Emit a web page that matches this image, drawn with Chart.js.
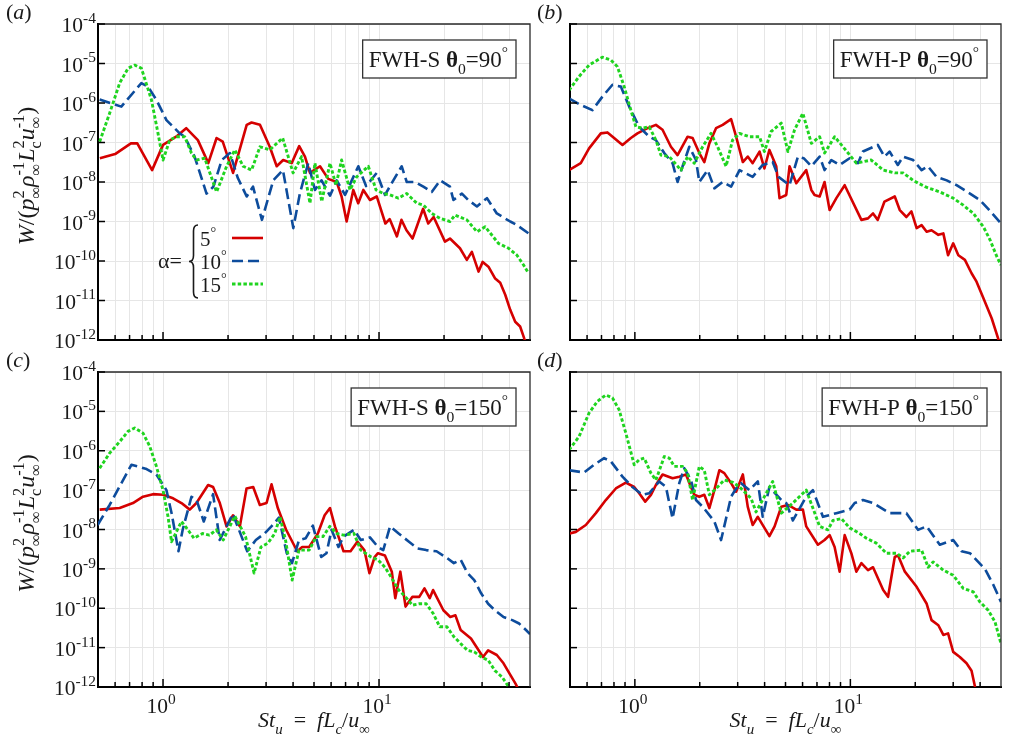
<!DOCTYPE html>
<html>
<head>
<meta charset="utf-8">
<script src="https://cdn.jsdelivr.net/npm/chart.js@4.4.1/dist/chart.umd.min.js"></script>
<style>
  html, body { margin: 0; padding: 0; background: #fff; }
  #page { position: relative; width: 1009px; height: 741px; overflow: hidden; }
  .panel { position: absolute; }
</style>
</head>
<body>
<div id="page">
  <div class="panel" style="left:0;top:0;width:545px;height:352px"><canvas id="pa"></canvas></div>
  <div class="panel" style="left:530px;top:0;width:479px;height:352px"><canvas id="pb"></canvas></div>
  <div class="panel" style="left:0;top:345px;width:545px;height:396px"><canvas id="pc"></canvas></div>
  <div class="panel" style="left:530px;top:345px;width:479px;height:396px"><canvas id="pd"></canvas></div>
</div>
<script>
// ---- tick values ----
const xTicks = [0.6, 0.7, 0.8, 0.9, 1, 2, 3, 4, 5, 6, 7, 8, 9, 10, 20, 30, 40];
const xMajor = [1, 10];
const yTicks = [1e-12, 1e-11, 1e-10, 1e-9, 1e-8, 1e-7, 1e-6, 1e-5, 1e-4];
const alphaLabels = ['5', '10', '15'];

// ---- (a) FWH-S, theta0 = 90 ----
const aRedSt = [0.51,0.60,0.71,0.76,0.89,1.0,1.15,1.28,1.45,1.62,1.77,1.89,2.11,2.44,2.57,2.81,3.12,3.36,3.60,3.94,4.27,4.54,4.79,5.33,5.82,6.37,6.71,7.08,7.60,8.01,8.46,9.08,9.76,10.7,11.2,12.1,12.7,13.4,14.3,16.0,16.9,17.9,20.2,21.3,23.7,25.5,26.9,28.9,30.2,32.1,34.5,36.4,38.4,40.5,42.7,45.0,47.0,49.0];
const aRedW = [4.0e-8,5.1e-8,9.5e-8,9.5e-8,2.0e-8,8.7e-8,1.4e-7,2.3e-7,1.15e-7,3.0e-8,1.3e-7,1.05e-7,1.7e-8,2.8e-7,3.2e-7,2.8e-7,7.8e-8,2.5e-8,3.6e-8,3.0e-8,8.1e-8,4.4e-8,1.7e-8,2.5e-8,1.2e-8,1.0e-8,4.3e-9,1.0e-9,6.3e-9,2.9e-9,6.3e-9,3.5e-9,4.3e-9,8.9e-10,1.15e-9,4.2e-10,1.1e-9,6.0e-10,3.7e-10,2.1e-9,8.9e-10,1.3e-9,3.1e-10,3.7e-10,2.1e-10,1.07e-10,1.7e-10,5.4e-11,9.5e-11,7.2e-11,3.6e-11,2.8e-11,1.4e-11,5.8e-12,2.9e-12,2.2e-12,1.1e-12,6e-13];
const aBlueSt = [0.509,0.641,0.794,0.852,0.932,1.037,1.195,1.26,1.40,1.59,1.71,1.87,2.04,2.22,2.44,2.61,2.87,3.24,3.59,4.01,4.30,4.70,5.05,5.42,5.93,6.37,6.96,8.02,8.71,9.76,10.66,11.65,12.74,13.44,14.69,16.04,17.54,19.18,21.3,22.1,24.2,25.9,28.4,31.6,35.1,40.5,43.5,49.2];
const aBlueW = [1.23e-6,8.1e-7,3.2e-6,2.6e-6,1.2e-6,3.7e-7,1.7e-7,1.4e-7,4.4e-8,5.1e-9,7.6e-9,3.6e-8,5.4e-8,1.26e-8,4.3e-9,7.6e-9,1.1e-9,1.1e-8,2.0e-8,6.8e-10,5.1e-9,3.0e-8,6.3e-9,1.1e-8,4.5e-9,1.1e-8,4.7e-9,2.5e-8,7.9e-9,1.7e-8,4.7e-9,1.1e-8,2.5e-8,1.0e-8,1.0e-8,7.6e-9,5.6e-9,1.1e-8,7.6e-9,3.5e-9,5.1e-9,3.5e-9,2.4e-9,3.9e-9,1.6e-9,1.0e-9,8.1e-10,5.0e-10];
const aGreenSt = [0.509,0.566,0.63,0.689,0.74,0.794,0.884,0.948,1.0,1.074,1.153,1.26,1.354,1.43,1.56,1.77,1.97,2.15,2.35,2.57,2.81,3.12,3.58,4.0,4.38,4.79,5.05,5.43,5.93,6.32,6.71,7.34,7.88,8.92,9.69,10.47,11.24,12.29,13.44,14.96,16.04,17.54,19.18,21.3,22.5,25.5,28.4,31.0,35.7,39.8,43.5,46.7,49.2];
const aGreenW = [1.05e-7,5.5e-7,3.2e-6,7.6e-6,9.1e-6,7.6e-6,1.2e-6,1.7e-7,3.6e-8,1.15e-7,1.4e-7,1.4e-7,5.4e-8,3.6e-8,4.0e-8,5.6e-9,2.5e-8,6.5e-8,2.5e-8,2.0e-8,7.8e-8,6.5e-8,1.3e-7,1.7e-8,4.4e-8,2.9e-9,3.0e-8,3.2e-9,3.0e-8,8.3e-9,3.6e-8,6.3e-9,1.35e-8,2.5e-8,6.3e-9,5.1e-9,4.7e-9,3.9e-9,5.1e-9,2.9e-9,2.6e-9,1.6e-9,1.2e-9,1.0e-9,1.45e-9,1.1e-9,5.5e-10,7.4e-10,2.8e-10,2.1e-10,1.4e-10,7.9e-11,4.9e-11];

// ---- (b) FWH-P, theta0 = 90 ----
const bRedSt = [0.495,0.561,0.613,0.695,0.746,0.801,0.876,0.958,1.028,1.144,1.252,1.344,1.47,1.578,1.757,1.853,1.991,2.10,2.216,2.38,2.556,2.796,2.95,3.17,3.34,3.52,3.79,3.99,4.21,4.53,4.69,5.04,5.22,5.61,6.24,6.59,6.82,7.20,7.59,8.01,8.61,9.41,11.25,12.07,12.74,13.4,14.4,16.07,16.95,18.2,19.2,20.3,21.4,22.6,23.8,25.6,27.0,28.4,30.0,31.7,34.0,36.5,38.5,41.4,45.3,48.6,50];
const bRedW = [2.0e-8,3.0e-8,7.1e-8,1.7e-7,1.8e-7,1.3e-7,8.7e-8,1.3e-7,1.7e-7,2.3e-7,2.8e-7,2.1e-7,7.8e-8,4.8e-8,1.4e-7,1.3e-7,5.4e-8,3.2e-8,9.5e-8,2.3e-7,2.8e-7,3.9e-7,1.4e-7,3.2e-8,4.4e-8,3.0e-8,5.9e-8,2.2e-8,6.5e-8,2.5e-8,3.9e-9,4.7e-9,2.5e-8,9.3e-9,2.0e-8,6.3e-9,4.7e-9,4.3e-9,1.0e-8,1.95e-9,3.9e-9,8.3e-9,1.1e-9,1.2e-9,1.6e-9,1.1e-9,3.2e-9,4.3e-9,1.95e-9,1.3e-9,1.8e-9,6.8e-10,8.1e-10,5.5e-10,6.0e-10,4.6e-10,5.0e-10,1.4e-10,2.8e-10,1.4e-10,1.07e-10,4.9e-11,3.0e-11,1.15e-11,3.5e-12,1.05e-12,8e-13];
const bBlueSt = [0.495,0.561,0.635,0.707,0.787,0.861,0.941,1.047,1.166,1.252,1.369,1.496,1.578,1.665,1.789,1.921,1.991,2.177,2.338,2.556,2.796,3.06,3.52,3.92,4.36,4.64,5.22,5.71,6.07,6.59,7.20,7.59,8.16,8.92,9.92,10.85,11.44,13.4,14.4,15.2,16.6,17.57,19.55,21.4,22.9,25.1,28.0,31.1,35.9,39.9,43.6,50];
const bBlueW = [1.3e-6,8.9e-7,6.6e-7,1.45e-6,2.9e-6,2.6e-6,8.1e-7,2.5e-7,1.4e-7,1.15e-7,5.4e-8,3.0e-8,1.0e-8,2.5e-8,7.8e-8,3.6e-8,1.0e-8,2.0e-8,6.9e-9,1.0e-8,7.6e-9,2.0e-8,1.35e-8,2.7e-8,3.2e-8,1.35e-8,8.3e-9,4.4e-8,4.0e-8,2.5e-8,4.4e-8,2.0e-8,3.6e-8,2.7e-8,4.0e-8,3.0e-8,5.9e-8,8.7e-8,4.4e-8,5.9e-8,2.7e-8,4.4e-8,3.6e-8,2.0e-8,2.5e-8,1.35e-8,1.1e-8,8.3e-9,5.1e-9,3.5e-9,2.1e-9,8.9e-10];
const bGreenSt = [0.495,0.551,0.613,0.707,0.773,0.830,0.892,0.958,1.011,1.085,1.166,1.252,1.321,1.444,1.637,1.757,1.887,2.063,2.257,2.42,2.65,2.84,3.06,3.40,3.79,3.99,4.29,4.78,5.13,5.51,6.02,6.59,7.20,7.59,8.45,9.24,10.66,12.5,14.2,16.07,17.57,19.55,22.2,26.0,30.0,33.4,37.2,41.4,44.5,47.8,50.0];
const bGreenW = [2.1e-6,4.7e-6,9.1e-6,1.45e-5,1.23e-5,8.3e-6,2.6e-6,6.6e-7,2.5e-7,2.3e-7,2.5e-7,1.15e-7,4.8e-8,4.4e-8,2.0e-8,4.4e-8,3.0e-8,7.8e-8,1.7e-7,7.8e-8,2.5e-8,1.15e-7,1.7e-7,1.4e-7,1.4e-7,5.9e-8,1.9e-7,3.1e-7,5.9e-8,2.1e-7,5.5e-7,9.5e-8,1.4e-7,5.4e-8,1.4e-7,7.8e-8,3.0e-8,3.6e-8,2.0e-8,1.7e-8,1.7e-8,1.1e-8,7.6e-9,5.6e-9,3.9e-9,2.6e-9,1.6e-9,7.4e-10,3.4e-10,1.3e-10,7.9e-11];

// ---- (c) FWH-S, theta0 = 150 ----
const cRedSt = [0.509,0.63,0.726,0.808,0.899,1.0,1.113,1.217,1.33,1.428,1.617,1.705,1.832,1.968,2.11,2.268,2.436,2.615,2.807,3.015,3.18,3.40,3.71,4.18,4.41,4.75,5.21,5.6,5.93,6.25,6.85,7.38,7.94,8.55,9.03,9.54,9.89,10.65,11.46,11.89,12.55,13.27,14.28,15.36,16.23,17.17,17.8,19.86,21.38,22.58,23.87,26.65,30.3,32.0,35.1,37.7,40.6,42.9,44.5];
const cRedW = [3.2e-8,3.5e-8,4.7e-8,6.8e-8,7.9e-8,7.6e-8,6.2e-8,4.7e-8,3.2e-8,4.7e-8,1.35e-7,1.2e-7,4.7e-8,1.2e-8,2.3e-8,1.2e-8,1.1e-7,1.2e-7,4.2e-8,4.7e-8,1.4e-7,3.5e-8,1.0e-8,2.8e-9,3.6e-9,3.6e-9,7.9e-9,2.3e-8,3.5e-8,1.2e-8,2.8e-9,2.8e-9,4.9e-9,3.0e-9,7.8e-10,2.0e-9,2.5e-9,2.2e-9,8.5e-10,1.8e-10,8.5e-10,1.1e-10,1.95e-10,1.95e-10,3.2e-10,1.8e-10,2.9e-10,8.9e-11,6.0e-11,6.6e-11,2.8e-11,1.7e-11,5.8e-12,8.5e-12,6.5e-12,4.0e-12,2.0e-12,1.2e-12,8e-13];
const cBlueSt = [0.498,0.566,0.637,0.714,0.831,0.932,1.037,1.097,1.179,1.234,1.354,1.43,1.544,1.705,1.83,2.104,2.454,2.69,2.949,3.175,3.44,3.74,3.955,4.26,4.58,4.94,5.40,5.71,6.03,6.49,6.85,7.66,8.23,9.08,9.89,10.46,11.25,12.33,13.76,15.09,16.54,18.46,20.6,22.2,23.9,25.7,27.6,29.7,32.0,34.4,37.7,41.4,44.5,47.9,50];
const cBlueW = [1.3e-8,4.2e-8,1.4e-7,4.4e-7,3.5e-7,2.5e-7,1.0e-7,2.5e-8,2.8e-9,1.0e-8,6.8e-8,5.6e-8,1.6e-8,7.9e-8,5.4e-9,2.5e-8,2.8e-9,5.4e-9,7.9e-9,1.2e-8,2.0e-8,2.5e-9,1.4e-9,5.4e-9,6.0e-9,1.26e-8,2.0e-9,2.5e-9,9.8e-9,3.6e-9,6.6e-9,9.8e-9,5.4e-9,6.3e-9,3.6e-9,3.0e-9,1.2e-8,7.9e-9,4.9e-9,3.3e-9,3.0e-9,2.8e-9,1.9e-9,1.4e-9,1.7e-9,7.8e-10,5.2e-10,2.4e-10,1.3e-10,8.9e-11,6.0e-11,5.0e-11,4.1e-11,2.8e-11,2.2e-11];
const cGreenSt = [0.509,0.566,0.63,0.688,0.739,0.808,0.868,0.932,1.0,1.055,1.095,1.217,1.269,1.391,1.523,1.64,1.765,1.899,2.15,2.41,2.64,2.84,3.06,3.29,3.48,3.70,3.96,4.26,4.75,5.12,5.50,5.92,6.37,6.85,7.66,8.23,9.19,9.89,10.65,11.46,12.33,13.26,14.27,15.35,16.54,17.8,19.1,20.6,22.2,23.9,25.7,27.6,29.7,32.0,34.4,37.1,39.9,41.5];
const cGreenW = [3.6e-7,8.7e-7,1.7e-6,3.1e-6,3.8e-6,2.8e-6,1.3e-6,4.0e-7,1.0e-7,2.1e-8,4.9e-9,1.6e-8,1.2e-8,6.0e-9,7.9e-9,7.2e-9,9.8e-9,5.4e-9,2.2e-8,6.6e-9,7.8e-10,3.6e-9,4.5e-9,7.9e-9,2.1e-8,5.0e-9,5.2e-10,3.0e-9,3.0e-9,6.6e-9,6.6e-9,1.2e-8,7.9e-9,7.2e-9,7.9e-9,3.0e-9,2.0e-9,1.7e-9,1.1e-9,5.8e-10,2.9e-10,1.95e-10,1.2e-10,1.3e-10,1.3e-10,7.4e-11,3.4e-11,3.4e-11,1.9e-11,1.26e-11,8.5e-12,7.8e-12,5.8e-12,4.8e-12,2.6e-12,1.8e-12,1.0e-12,7e-13];

// ---- (d) FWH-P, theta0 = 150 ----
const dRedSt = [0.495,0.532,0.592,0.659,0.733,0.816,0.908,0.993,1.047,1.117,1.187,1.252,1.344,1.496,1.607,1.727,1.821,1.887,1.991,2.10,2.216,2.338,2.466,2.60,2.796,2.95,3.17,3.34,3.52,3.72,4.21,4.45,4.78,5.13,5.61,6.02,6.24,7.07,7.59,8.01,8.45,8.92,9.41,10.1,10.66,11.25,12.07,12.74,14.2,14.96,16.07,16.65,17.9,20.3,22.6,23.8,25.6,27.0,28.4,30.0,32.2,34.6,36.5,37.9,38.5];
const dRedW = [7.9e-9,8.7e-9,1.3e-8,2.6e-8,5.6e-8,1.1e-7,1.55e-7,1.2e-7,8.3e-8,5.1e-8,7.6e-8,1.35e-7,2.5e-7,2.0e-7,2.2e-7,2.5e-7,1.2e-7,7.6e-8,6.8e-8,7.6e-8,3.5e-8,1.0e-7,3.2e-7,2.7e-7,1.5e-7,9.1e-8,2.5e-7,3.8e-8,1.3e-8,2.1e-8,6.8e-9,1.2e-8,3.8e-8,4.2e-8,3.2e-8,3.2e-8,1.2e-8,4.1e-9,5.4e-9,7.2e-9,3.6e-9,8.5e-10,7.2e-9,2.5e-9,8.5e-10,1.4e-9,9.3e-10,1.1e-9,2.9e-10,1.95e-10,2.0e-9,2.2e-9,8.5e-10,3.5e-10,1.3e-10,5.0e-11,3.7e-11,2.1e-11,2.3e-11,7.8e-12,5.8e-12,4.0e-12,2.6e-12,1.0e-12,7e-13];
const dBlueSt = [0.495,0.581,0.647,0.72,0.773,0.876,0.974,1.085,1.166,1.297,1.394,1.496,1.607,1.695,1.821,1.921,2.063,2.338,2.512,2.796,2.95,3.11,3.40,3.72,3.92,4.21,4.78,5.04,5.41,6.24,6.70,7.46,8.61,9.92,10.47,11.44,12.74,15.2,18.2,20.6,22.6,26.0,30.0,32.8,35.9,39.2,42.1,46.1,50];
const dBlueW = [3.2e-7,2.8e-7,4.4e-7,6.5e-7,5.4e-7,2.2e-7,1.2e-7,7.6e-8,8.3e-8,1.66e-7,1.2e-7,1.9e-8,1.5e-7,3.6e-7,1.8e-7,5.6e-8,3.8e-8,1.6e-8,5.4e-9,6.8e-8,1.1e-7,1.5e-7,1.0e-7,1.66e-7,2.1e-8,1.2e-7,5.6e-8,4.7e-8,1.7e-8,6.8e-8,1.0e-7,2.1e-8,2.6e-8,3.2e-8,4.7e-8,5.6e-8,4.7e-8,2.6e-8,2.6e-8,9.8e-9,1.2e-8,4.1e-9,5.4e-9,2.8e-9,2.5e-9,1.5e-9,1.0e-9,3.9e-10,1.45e-10];
const dGreenSt = [0.495,0.551,0.613,0.67,0.733,0.787,0.845,0.908,0.993,1.047,1.105,1.187,1.252,1.369,1.444,1.523,1.665,1.757,1.853,1.991,2.10,2.216,2.38,2.60,2.836,3.06,3.46,3.65,4.07,4.36,4.78,5.41,5.92,6.24,6.70,7.20,7.87,8.30,9.08,9.92,11.05,11.87,13.2,14.7,16.37,17.57,18.87,21.4,22.96,24.2,27.0,30.0,33.4,37.2,39.9,43.6,46.9,50];
const dGreenW = [1.05e-6,2.3e-6,9.1e-6,1.8e-5,2.6e-5,2.2e-5,1.1e-5,2.8e-6,4.4e-7,5.9e-7,6.5e-7,2.7e-7,1.8e-7,7.1e-7,6.5e-7,4.0e-7,4.0e-7,2.7e-7,5.6e-8,4.0e-7,3.2e-7,7.6e-8,1.1e-7,1.8e-7,1.6e-7,1.2e-7,6.2e-8,2.8e-8,8.3e-8,1.66e-7,2.6e-8,4.7e-8,7.6e-8,1.0e-7,3.5e-8,1.2e-8,9.8e-9,1.7e-8,1.9e-8,1.1e-8,7.9e-9,6.0e-9,4.5e-9,2.5e-9,2.5e-9,1.9e-9,2.8e-9,3.0e-9,1.1e-9,1.5e-9,9.3e-10,6.9e-10,3.2e-10,2.6e-10,1.45e-10,8.9e-11,4.5e-11,1.26e-11];

// line styles for alpha = 5, 10, 15 deg
const lineStyles = [
  { color: '#d50000', width: 2.6, dash: [] },
  { color: '#0d4c9c', width: 2.6, dash: [11, 5] },
  { color: '#1fd41f', width: 2.9, dash: [3.5, 2.2] }
];

const SERIF = '"Liberation Serif", "DejaVu Serif", serif';
const TXT = '#1a1a1a';

// draw a run of text pieces: [text, kind, style]; kind n=normal, u=sup, d=sub, ud=[sup,sub]
function rich(ctx, parts, x, y, size, draw, smallRatio) {
  const small = size * (smallRatio || 0.68);
  let cx = x;
  for (const [t, k, st] of parts) {
    const sty = st === 'i' ? 'italic ' : st === 'b' ? 'bold ' : '';
    if (k === 'n') {
      ctx.font = sty + size + 'px ' + SERIF;
      if (draw) ctx.fillText(t, cx, y);
      cx += ctx.measureText(t).width;
    } else if (k === 'u' || k === 'd') {
      ctx.font = sty + small + 'px ' + SERIF;
      if (draw) ctx.fillText(t, cx, y + (k === 'u' ? -size * 0.42 : size * 0.3));
      cx += ctx.measureText(t).width;
    } else {
      ctx.font = small + 'px ' + SERIF;
      const w1 = ctx.measureText(t[0]).width, w2 = ctx.measureText(t[1]).width;
      if (draw) {
        ctx.fillText(t[0], cx, y - size * 0.42);
        ctx.fillText(t[1], cx, y + size * 0.3);
      }
      cx += Math.max(w1, w2);
    }
  }
  return cx - x;
}

function pow10Parts(v) {
  return [['10', 'n', ''], [String(Math.round(Math.log10(v))), 'u', '']];
}

const decor = {
  id: 'decor',
  afterDraw(chart) {
    const o = chart.options.plugins.decor;
    const ctx = chart.ctx, a = chart.chartArea;
    const xs = chart.scales.x, ys = chart.scales.y;
    ctx.save();
    ctx.textAlign = 'left';
    ctx.textBaseline = 'alphabetic';

    // top and right frame
    ctx.strokeStyle = '#2a2a2a';
    ctx.lineWidth = 1.3;
    ctx.beginPath();
    ctx.moveTo(a.left, a.top); ctx.lineTo(a.right, a.top); ctx.lineTo(a.right, a.bottom);
    ctx.stroke();

    // inward tick marks
    ctx.strokeStyle = '#000';
    ctx.lineWidth = 1.5;
    xTicks.forEach(v => {
      const px = xs.getPixelForValue(v);
      const len = xMajor.includes(v) ? 8 : 5;
      ctx.beginPath(); ctx.moveTo(px, a.bottom); ctx.lineTo(px, a.bottom - len); ctx.stroke();
    });
    yTicks.forEach(v => {
      const py = ys.getPixelForValue(v);
      ctx.beginPath(); ctx.moveTo(a.left, py); ctx.lineTo(a.left + 7, py); ctx.stroke();
    });

    ctx.fillStyle = TXT;
    // tick labels
    if (o.yLabels) {
      yTicks.forEach(v => {
        const py = ys.getPixelForValue(v);
        const w = rich(ctx, pow10Parts(v), 0, 0, 21.5, false, 0.72);
        rich(ctx, pow10Parts(v), a.left - 2 - w, py + 8, 21.5, true, 0.72);
      });
    }
    if (o.xLabels) {
      xMajor.forEach(v => {
        const px = xs.getPixelForValue(v);
        const w = rich(ctx, pow10Parts(v), 0, 0, 21.5, false, 0.72);
        rich(ctx, pow10Parts(v), px - 2 - w / 2, a.bottom + 26, 21.5, true, 0.72);
      });
      const xt = [['St', 'n', 'i'], ['u', 'd', 'i'], ['\u2002=\u2002', 'n', ''], ['fL', 'n', 'i'], ['c', 'd', 'i'], ['/', 'n', ''], ['u', 'n', 'i'], ['∞', 'd', '']];
      const w = rich(ctx, xt, 0, 0, 22, false);
      rich(ctx, xt, (a.left + a.right) / 2 - w / 2, a.bottom + 40, 22, true);
    }
    if (o.yTitle) {
      const yt = [['W', 'n', 'i'], ['/(', 'n', ''], ['p', 'n', 'i'], [['2', '∞'], 'ud'], ['ρ', 'n', 'i'], [['-1', '∞'], 'ud'],
                  ['L', 'n', 'i'], [['2', 'c'], 'ud'], ['u', 'n', 'i'], [['-1', '∞'], 'ud'], [')', 'n', '']];
      const w = rich(ctx, yt, 0, 0, 24, false);
      ctx.save();
      ctx.translate(34, (a.top + a.bottom) / 2 - 6);
      ctx.rotate(-Math.PI / 2);
      rich(ctx, yt, -w / 2, 0, 24, true);
      ctx.restore();
    }

    // panel letter
    rich(ctx, [['(', 'n', ''], [o.letter, 'n', 'i'], [')', 'n', '']], o.letterX, a.top - 5, 22, true);

    // annotation box
    const bt = [[o.method + ' ', 'n', ''], ['θ', 'n', 'b'], ['0', 'd', ''], ['=' + o.theta, 'n', ''], ['°', 'u', '']];
    const bw = rich(ctx, bt, 0, 0, 23, false) + 14;
    const bx = a.right - 14 - bw, by = a.top + 16, bh = 38;
    ctx.fillStyle = '#fff';
    ctx.fillRect(bx, by, bw, bh);
    ctx.strokeStyle = '#333';
    ctx.lineWidth = 1.3;
    ctx.strokeRect(bx, by, bw, bh);
    ctx.fillStyle = TXT;
    rich(ctx, bt, bx + 6, by + 27, 23, true);

    // legend
    if (o.legend) {
      rich(ctx, [['α=', 'n', '']], 158, 268, 22, true);
      ctx.strokeStyle = TXT;
      ctx.lineWidth = 1.6;
      const xr = 198, xc = 193.5, xl = 189, t = 225, b = 298, m = (t + b) / 2, r = 6;
      ctx.beginPath();
      ctx.moveTo(xr, t);
      ctx.quadraticCurveTo(xc, t, xc, t + r);
      ctx.lineTo(xc, m - r);
      ctx.quadraticCurveTo(xc, m, xl, m);
      ctx.quadraticCurveTo(xc, m, xc, m + r);
      ctx.lineTo(xc, b - r);
      ctx.quadraticCurveTo(xc, b, xr, b);
      ctx.stroke();
      const rows = [238, 261, 284];
      alphaLabels.forEach((lab, i) => {
        ctx.fillStyle = TXT;
        rich(ctx, [[lab, 'n', ''], ['°', 'u', '']], 200, rows[i] + 8, 21, true);
        const s = lineStyles[i];
        ctx.strokeStyle = s.color;
        ctx.lineWidth = s.width;
        ctx.setLineDash(s.dash);
        ctx.beginPath(); ctx.moveTo(232, rows[i]); ctx.lineTo(263, rows[i]); ctx.stroke();
        ctx.setLineDash([]);
      });
    }
    ctx.restore();
  }
};

function makeSeries(st, w) {
  return st.map((v, i) => ({ x: v, y: w[i] }));
}

const panels = [
  { id: 'pa', letter: 'a', letterX: 6, method: 'FWH-S', theta: '90', yLabels: true, xLabels: false, yTitle: true, legend: true,
    pad: { left: 98, top: 24, right: 15, bottom: 12 },
    data: [[aRedSt, aRedW], [aBlueSt, aBlueW], [aGreenSt, aGreenW]] },
  { id: 'pb', letter: 'b', letterX: 7, method: 'FWH-P', theta: '90', yLabels: false, xLabels: false, yTitle: false, legend: false,
    pad: { left: 40, top: 24, right: 8, bottom: 12 },
    data: [[bRedSt, bRedW], [bBlueSt, bBlueW], [bGreenSt, bGreenW]] },
  { id: 'pc', letter: 'c', letterX: 6, method: 'FWH-S', theta: '150', yLabels: true, xLabels: true, yTitle: true, legend: false,
    pad: { left: 98, top: 27, right: 15, bottom: 54 },
    data: [[cRedSt, cRedW], [cBlueSt, cBlueW], [cGreenSt, cGreenW]] },
  { id: 'pd', letter: 'd', letterX: 7, method: 'FWH-P', theta: '150', yLabels: false, xLabels: true, yTitle: false, legend: false,
    pad: { left: 40, top: 27, right: 8, bottom: 54 },
    data: [[dRedSt, dRedW], [dBlueSt, dBlueW], [dGreenSt, dGreenW]] }
];

panels.forEach(p => {
  const ctx = document.getElementById(p.id).getContext('2d');
  new Chart(ctx, {
    type: 'line',
    data: {
      datasets: p.data.map((d, i) => ({
        label: alphaLabels[i] + '°',
        data: makeSeries(d[0], d[1]),
        borderColor: lineStyles[i].color,
        borderWidth: lineStyles[i].width,
        borderDash: lineStyles[i].dash,
        borderJoinStyle: 'round',
        pointRadius: 0,
        tension: 0,
        fill: false,
        order: 3 - i
      }))
    },
    options: {
      responsive: true,
      maintainAspectRatio: false,
      animation: false,
      layout: { padding: p.pad },
      plugins: {
        legend: { display: false },
        tooltip: { enabled: false },
        decor: p
      },
      scales: {
        x: {
          type: 'logarithmic', min: 0.5, max: 50,
          afterBuildTicks: s => { s.ticks = xTicks.map(v => ({ value: v })); },
          ticks: { display: false },
          grid: { color: '#e6e6e6', lineWidth: 1, drawTicks: false },
          border: { display: true, color: '#000', width: 2 }
        },
        y: {
          type: 'logarithmic', min: 1e-12, max: 1e-4,
          afterBuildTicks: s => { s.ticks = yTicks.map(v => ({ value: v })); },
          ticks: { display: false },
          grid: { color: '#e6e6e6', lineWidth: 1, drawTicks: false },
          border: { display: true, color: '#000', width: 2 }
        }
      }
    },
    plugins: [decor]
  });
});
</script>
</body>
</html>
